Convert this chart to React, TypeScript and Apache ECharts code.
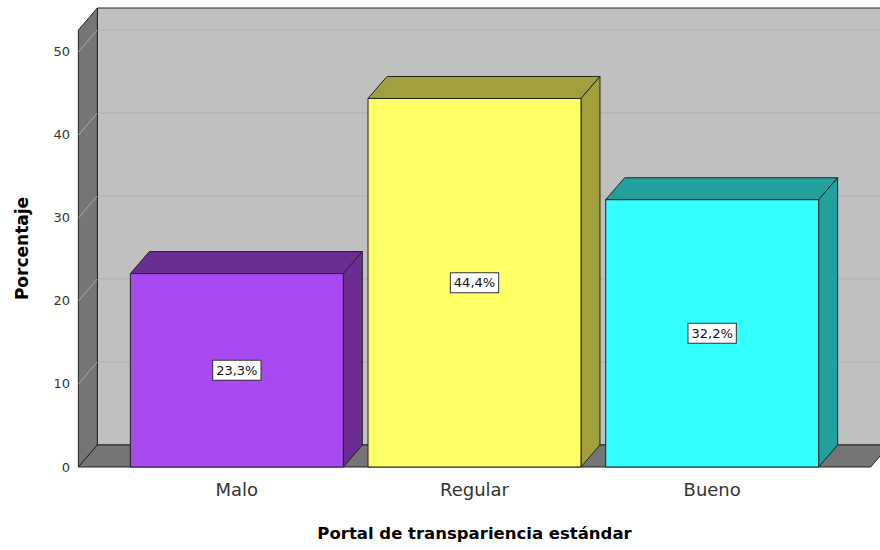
import React, { useEffect, useRef } from "react";
import * as echarts from "echarts";

const categories = ["Malo", "Regular", "Bueno"];
const percentages = [23.3, 44.4, 32.2];
const yTicks = [0, 10, 20, 30, 40, 50];
const yMax = 52.65;
const frontColors = ["#A84AF2", "#FFFF66", "#33FFFF"];
const darkColors = ["#6A2D92", "#A0A03F", "#21A09D"];

const xTitle = "Portal de transpariencia estándar";
const yTitle = "Porcentaje";

const DX = 19;
const DY = 22;
const BAR_RATIO = 0.896;
const EXT_RATIO = 1 / 6;
const FONT = "'DejaVu Sans', Arial, sans-serif";
const EDGE = "#222222";

export default function App() {
  const ref = useRef<HTMLDivElement>(null);
  useEffect(() => {
    document.body.style.margin = "0";
    const chart = echarts.init(ref.current!, null, { renderer: "svg" });

    const wallsRender = (params: any, api: any) => {
      const cs = params.coordSys;
      const band = api.size([1, 0])[0];
      const ext = band * EXT_RATIO;
      const left = cs.x - ext;
      const right = cs.x + cs.width + ext;
      const top = cs.y;
      const bottom = cs.y + cs.height;
      const children: any[] = [];
      children.push({
        type: "rect",
        shape: { x: left + DX, y: top - DY, width: right - left + 20, height: cs.height },
        style: { fill: "#C0C0C0", stroke: EDGE, lineWidth: 1 },
      });
      children.push({
        type: "polygon",
        shape: { points: [[left, top], [left + DX, top - DY], [left + DX, bottom - DY], [left, bottom]] },
        style: { fill: "#757575", stroke: EDGE, lineWidth: 1 },
      });
      yTicks.forEach((t) => {
        if (t === 0) return;
        const y = api.coord([0, t])[1];
        children.push({
          type: "line",
          shape: { x1: left + DX + 1, y1: y - DY, x2: right + DX + 20, y2: y - DY },
          style: { stroke: "#B0B0B0", lineWidth: 1 },
        });
        children.push({
          type: "line",
          shape: { x1: left, y1: y, x2: left + DX, y2: y - DY },
          style: { stroke: "#A8A8A8", lineWidth: 1 },
        });
      });
      children.push({
        type: "polygon",
        shape: { points: [[left, bottom], [left + DX, bottom - DY], [right + DX, bottom - DY], [right, bottom]] },
        style: { fill: "#757575", stroke: EDGE, lineWidth: 1 },
      });
      return { type: "group", children };
    };

    const barsRender = (params: any, api: any) => {
      const i = api.value(0);
      const v = api.value(1);
      const base = api.coord([i, 0]);
      const topP = api.coord([i, v]);
      const bw = api.size([1, 0])[0] * BAR_RATIO;
      const x0 = base[0] - bw / 2;
      const x1 = base[0] + bw / 2;
      const yb = base[1];
      const yt = topP[1];
      const idx = params.dataIndex;
      const label = v.toFixed(1).replace(".", ",") + "%";
      return {
        type: "group",
        children: [
          {
            type: "polygon",
            shape: { points: [[x0, yt], [x0 + DX, yt - DY], [x1 + DX, yt - DY], [x1, yt]] },
            style: { fill: darkColors[idx], stroke: EDGE, lineWidth: 1 },
          },
          {
            type: "polygon",
            shape: { points: [[x1, yt], [x1 + DX, yt - DY], [x1 + DX, yb - DY], [x1, yb]] },
            style: { fill: darkColors[idx], stroke: EDGE, lineWidth: 1 },
          },
          {
            type: "rect",
            shape: { x: x0, y: yt, width: bw, height: yb - yt },
            style: { fill: frontColors[idx], stroke: EDGE, lineWidth: 1 },
          },
          {
            type: "text",
            x: base[0],
            y: (yb + yt) / 2,
            style: {
              text: label,
              fill: "#111",
              fontSize: 13,
              fontFamily: FONT,
              align: "center",
              verticalAlign: "middle",
              backgroundColor: "#ffffff",
              borderColor: "#333",
              borderWidth: 1,
              padding: [3, 3, 3, 3],
            },
          },
        ],
      };
    };

    chart.setOption({
      animation: false,
      backgroundColor: "#ffffff",
      grid: { left: 118, right: 49, top: 30, bottom: 83, outerBoundsMode: "none", containLabel: false },
      xAxis: {
        type: "category",
        data: categories,
        axisLine: { show: false },
        axisTick: { show: false },
        splitLine: { show: false },
        axisLabel: { color: "#333", fontSize: 18, fontFamily: FONT, margin: 13 },
        name: xTitle,
        nameLocation: "middle",
        nameGap: 58,
        nameTextStyle: { color: "#000", fontSize: 16.5, fontWeight: "bold", fontFamily: FONT },
      },
      yAxis: {
        type: "value",
        min: 0,
        max: yMax,
        interval: 10,
        offset: 40,
        axisLine: { show: false },
        axisTick: { show: false },
        splitLine: { show: false },
        axisLabel: {
          color: "#333",
          fontSize: 13,
          fontFamily: FONT,
          margin: 8,
          showMaxLabel: false,
          formatter: (val: number) => (yTicks.includes(val) ? String(val) : ""),
        },
        name: yTitle,
        nameLocation: "middle",
        nameGap: 48,
        nameTextStyle: { color: "#000", fontSize: 17, fontWeight: "bold", fontFamily: FONT },
      },
      series: [
        {
          type: "custom",
          z: 1,
          silent: true,
          data: [[0, 0]],
          renderItem: wallsRender,
        },
        {
          type: "custom",
          z: 2,
          data: percentages.map((v, i) => [i, v]),
          encode: { x: 0, y: 1 },
          renderItem: barsRender,
        },
      ],
    });
    return () => chart.dispose();
  }, []);
  return <div ref={ref} style={{ width: 880, height: 550 }} />;
}
